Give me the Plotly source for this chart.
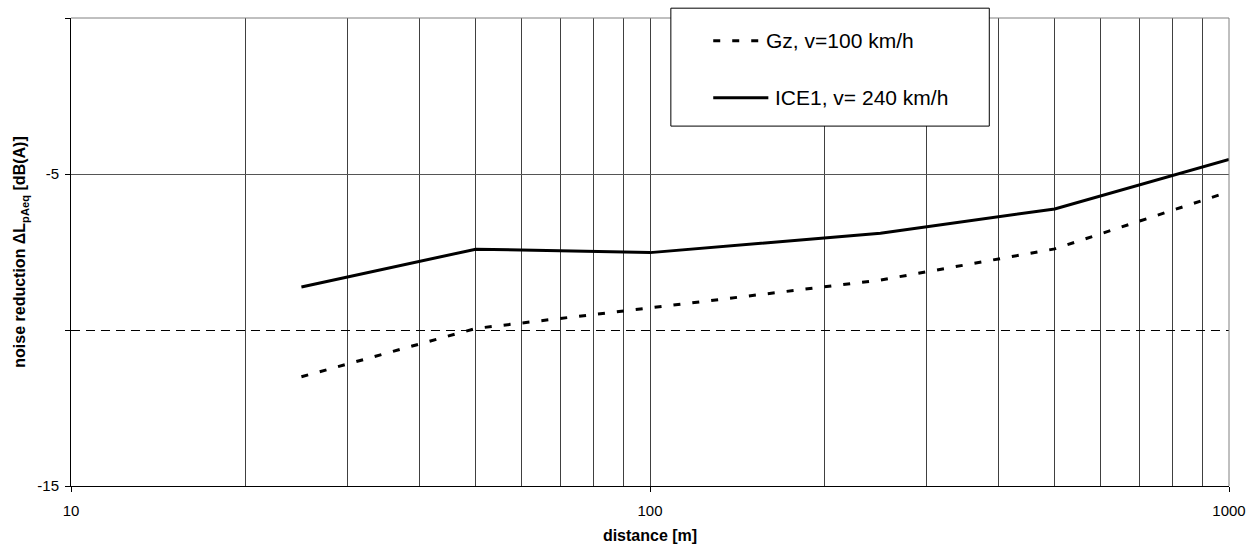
import plotly.graph_objects as go

distance = [25, 50, 100, 250, 500, 1000]
gz_100 = [-11.50, -9.95, -9.29, -8.40, -7.40, -5.57]
ice1_240 = [-8.62, -7.41, -7.52, -6.90, -6.12, -4.53]
series_names = ["Gz, v=100 km/h", "ICE1, v= 240 km/h"]

major_x = [10, 100, 1000]
minor_x = [20, 30, 40, 50, 60, 70, 80, 90, 200, 300, 400, 500, 600, 700, 800, 900]
y_ticks = [-15, -5]

FONT = "Liberation Sans, Arial, sans-serif"
DASH = "7px,12px"

fig = go.Figure()
fig.add_trace(go.Scatter(x=distance, y=gz_100, mode="lines", name=series_names[0],
                         line=dict(color="black", width=3, dash=DASH)))
fig.add_trace(go.Scatter(x=distance, y=ice1_240, mode="lines", name=series_names[1],
                         line=dict(color="black", width=3)))

fig.update_layout(
    width=1255, height=544,
    margin=dict(l=71, r=26, t=18, b=58),
    plot_bgcolor="white", paper_bgcolor="white",
    font=dict(family=FONT, size=15, color="black"),
    showlegend=False,
    xaxis=dict(type="log", range=[1, 3], tickvals=major_x, ticktext=[str(v) for v in major_x],
               automargin=False,
               showgrid=True, gridcolor="#404040", gridwidth=1,
               minor=dict(tickmode="array", tickvals=minor_x, showgrid=True,
                          gridcolor="#404040", gridwidth=1, ticks=""),
               showline=True, linecolor="black", linewidth=1,
               ticks="outside", ticklen=5, tickcolor="black", ticklabelstandoff=6,
               zeroline=False, tickfont=dict(size=15),
               title=dict(text="<b>distance [m]</b>", font=dict(size=16), standoff=12)),
    yaxis=dict(range=[-15, 0], tickvals=y_ticks, ticktext=[str(v) for v in y_ticks],
               automargin=False,
               showgrid=True, gridcolor="#555555", gridwidth=1,
               minor=dict(dtick=5, tick0=0, showgrid=True, gridcolor="black", gridwidth=1,
                          griddash="9px,6px", ticks="outside", ticklen=5, tickcolor="black"),
               showline=True, linecolor="black", linewidth=1,
               ticks="outside", ticklen=5, tickcolor="black", ticklabelstandoff=3,
               zeroline=False, tickfont=dict(size=15),
               title=dict(text="<b>noise reduction ΔL<sub>pAeq</sub> [dB(A)]</b>",
                          font=dict(size=16), standoff=7)),
)
# grey frame on top and right
fig.add_shape(type="line", xref="paper", yref="paper", x0=0, x1=1, y0=1, y1=1,
              line=dict(color="#808080", width=1))
fig.add_shape(type="line", xref="paper", yref="paper", x0=1, x1=1, y0=0, y1=1,
              line=dict(color="#808080", width=1))

# legend box drawn in paper coordinates
fig.add_shape(type="rect", xref="paper", yref="paper", x0=0.518, x1=0.793, y0=0.769, y1=1.021,
              line=dict(color="black", width=1), fillcolor="white", layer="above")
legend_rows = [(0.9515, DASH, 0.5985), (0.8297, "solid", 0.6063)]
for (ly, dash, tx), name in zip(legend_rows, series_names):
    fig.add_shape(type="line", xref="paper", yref="paper", x0=0.5546, x1=0.6022, y0=ly, y1=ly,
                  line=dict(color="black", width=3, dash=dash), layer="above")
    fig.add_annotation(xref="paper", yref="paper", x=tx, y=ly, text=name, showarrow=False,
                       xanchor="left", yanchor="middle", font=dict(size=21, family=FONT))

fig.write_html("out.html")
